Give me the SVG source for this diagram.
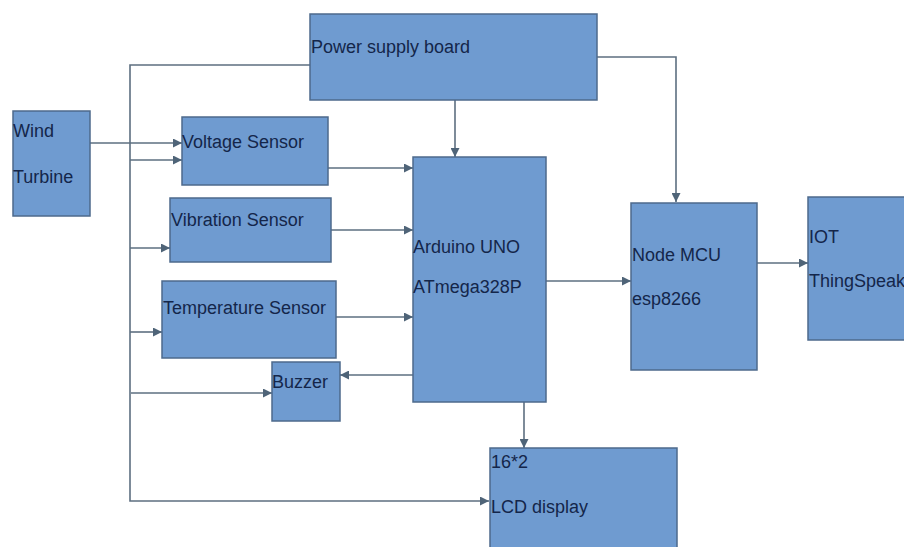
<svg xmlns="http://www.w3.org/2000/svg" width="904" height="547" viewBox="0 0 904 547">
<style>
.box{fill:#6f9bd0;stroke:#4d6a8c;stroke-width:1.5}
.lbl{font-family:"Liberation Sans",Arial,sans-serif;font-size:18px;fill:#14264a}
.wire{fill:none;stroke:#5d6f80;stroke-width:1.6}
</style>
<defs>
<marker id="ah" viewBox="0 0 10 10" refX="10" refY="5" markerWidth="10" markerHeight="9" markerUnits="userSpaceOnUse" orient="auto">
<path d="M0,0 L10,5 L0,10 Z" fill="#4f6478"/>
</marker>
</defs>
<rect width="904" height="547" fill="#ffffff"/>
<g id="connectors">
<path class="wire" d="M310,65 H130 V501 H489" marker-end="url(#ah)"/>
<path class="wire" d="M597,57 H676 V202" marker-end="url(#ah)"/>
<path class="wire" d="M455,100 V157" marker-end="url(#ah)"/>
<path class="wire" d="M90,143 H182" marker-end="url(#ah)"/>
<path class="wire" d="M130,160 H182" marker-end="url(#ah)"/>
<path class="wire" d="M130,248 H170" marker-end="url(#ah)"/>
<path class="wire" d="M130,332 H162" marker-end="url(#ah)"/>
<path class="wire" d="M131,393 H272" marker-end="url(#ah)"/>
<path class="wire" d="M328,168 H413" marker-end="url(#ah)"/>
<path class="wire" d="M331,230 H413" marker-end="url(#ah)"/>
<path class="wire" d="M336,317 H413" marker-end="url(#ah)"/>
<path class="wire" d="M413,375 H340" marker-end="url(#ah)"/>
<path class="wire" d="M524,402 V448" marker-end="url(#ah)"/>
<path class="wire" d="M546,281 H631" marker-end="url(#ah)"/>
<path class="wire" d="M757,263 H808" marker-end="url(#ah)"/>
</g>
<g id="power">
<rect class="box" x="310" y="14" width="287" height="86"/>
<text class="lbl" x="311" y="53">Power supply board</text>
</g>
<g id="wind">
<rect class="box" x="13" y="111" width="77" height="105"/>
<text class="lbl" x="13" y="137">Wind</text>
<text class="lbl" x="13" y="183">Turbine</text>
</g>
<g id="voltage">
<rect class="box" x="182" y="117" width="146" height="68"/>
<text class="lbl" x="182" y="148">Voltage Sensor</text>
</g>
<g id="vibration">
<rect class="box" x="170" y="198" width="161" height="64"/>
<text class="lbl" x="171" y="226">Vibration Sensor</text>
</g>
<g id="temperature">
<rect class="box" x="162" y="281" width="174" height="77"/>
<text class="lbl" x="163" y="314">Temperature Sensor</text>
</g>
<g id="buzzer">
<rect class="box" x="272" y="362" width="68" height="59"/>
<text class="lbl" x="272" y="388">Buzzer</text>
</g>
<g id="arduino">
<rect class="box" x="413" y="157" width="133" height="245"/>
<text class="lbl" x="413" y="253">Arduino UNO</text>
<text class="lbl" x="413" y="293">ATmega328P</text>
</g>
<g id="lcd">
<rect class="box" x="490" y="448" width="187" height="105"/>
<text class="lbl" x="491" y="468">16*2</text>
<text class="lbl" x="491" y="513">LCD display</text>
</g>
<g id="nodemcu">
<rect class="box" x="631" y="203" width="126" height="167"/>
<text class="lbl" x="632" y="261">Node MCU</text>
<text class="lbl" x="632" y="305">esp8266</text>
</g>
<g id="iot">
<rect class="box" x="808" y="197" width="100" height="143"/>
<text class="lbl" x="809" y="243">IOT</text>
<text class="lbl" x="809" y="287">ThingSpeak</text>
</g>
</svg>
